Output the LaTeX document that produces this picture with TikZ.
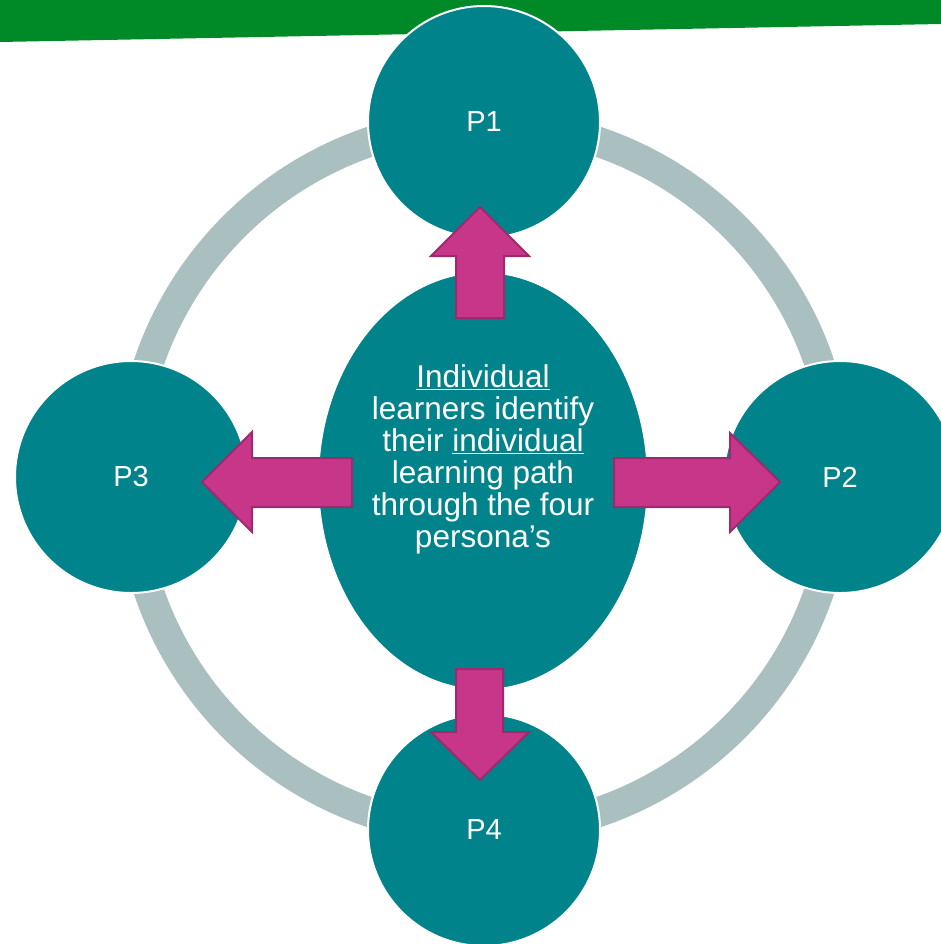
\documentclass[tikz,border=0pt]{standalone}
\usepackage{fontspec}
\setmainfont{Liberation Sans}
\usetikzlibrary{shapes.geometric}
\definecolor{tealzero}{HTML}{00838A}
\definecolor{ringgray}{HTML}{A9BFC0}
\definecolor{bandgreen}{HTML}{008A27}
\definecolor{mag}{HTML}{C8368A}
\definecolor{magdark}{HTML}{9E2A6E}
\begin{document}
\begin{tikzpicture}[x=1pt,y=-1pt,
  persona/.style={circle, fill=tealzero, draw=white, line width=2pt, minimum size=232pt, inner sep=0pt, text=white, font=\fontsize{29}{29}\selectfont},
  hubshape/.style={ellipse, fill=tealzero, draw=white, line width=2pt, minimum width=330pt, minimum height=418pt, inner sep=0pt},
  blockarrow/.style={fill=mag, draw=magdark, line width=2pt, line join=miter},
  hubtext/.style={text=white, align=center, inner sep=0pt, font=\fontsize{31.5}{32}\selectfont}]
\useasboundingbox (0,0) rectangle (941,944);
\clip (0,0) rectangle (941,944);
\fill[bandgreen] (0,0) -- (941,0) -- (941,24) -- (0,42) -- cycle;
\coordinate (o) at (484,477);
\draw[ringgray, line width=30pt] (o) circle[radius=354pt];
\node[persona] (p1) at (484,122) {P1};
\node[persona] (p2) at (840,477) {P2};
\node[persona] (p3) at (131,477) {P3};
\node[persona] (p4) at (484,830) {P4};
\node[hubshape] (hub) at (483,481) {};
\draw[blockarrow] (456,318) -- (456,256) -- (431,256) -- (480,207) -- (529,256) -- (504,256) -- (504,318) -- cycle;
\draw[blockarrow] (456,669) -- (503,669) -- (503,732) -- (529,732) -- (480,780) -- (431,732) -- (456,732) -- cycle;
\draw[blockarrow] (352,458) -- (252,458) -- (252,432) -- (202,482) -- (252,532) -- (252,507) -- (352,507) -- cycle;
\draw[blockarrow] (614,458) -- (730,458) -- (730,433) -- (780,482) -- (730,532) -- (730,507) -- (614,507) -- cycle;
\node[hubtext] (txt) at (483,459) {\underline{Individual}\\learners identify\\their \underline{individual}\\learning path\\through the four\\persona’s};
\end{tikzpicture}
\end{document}
